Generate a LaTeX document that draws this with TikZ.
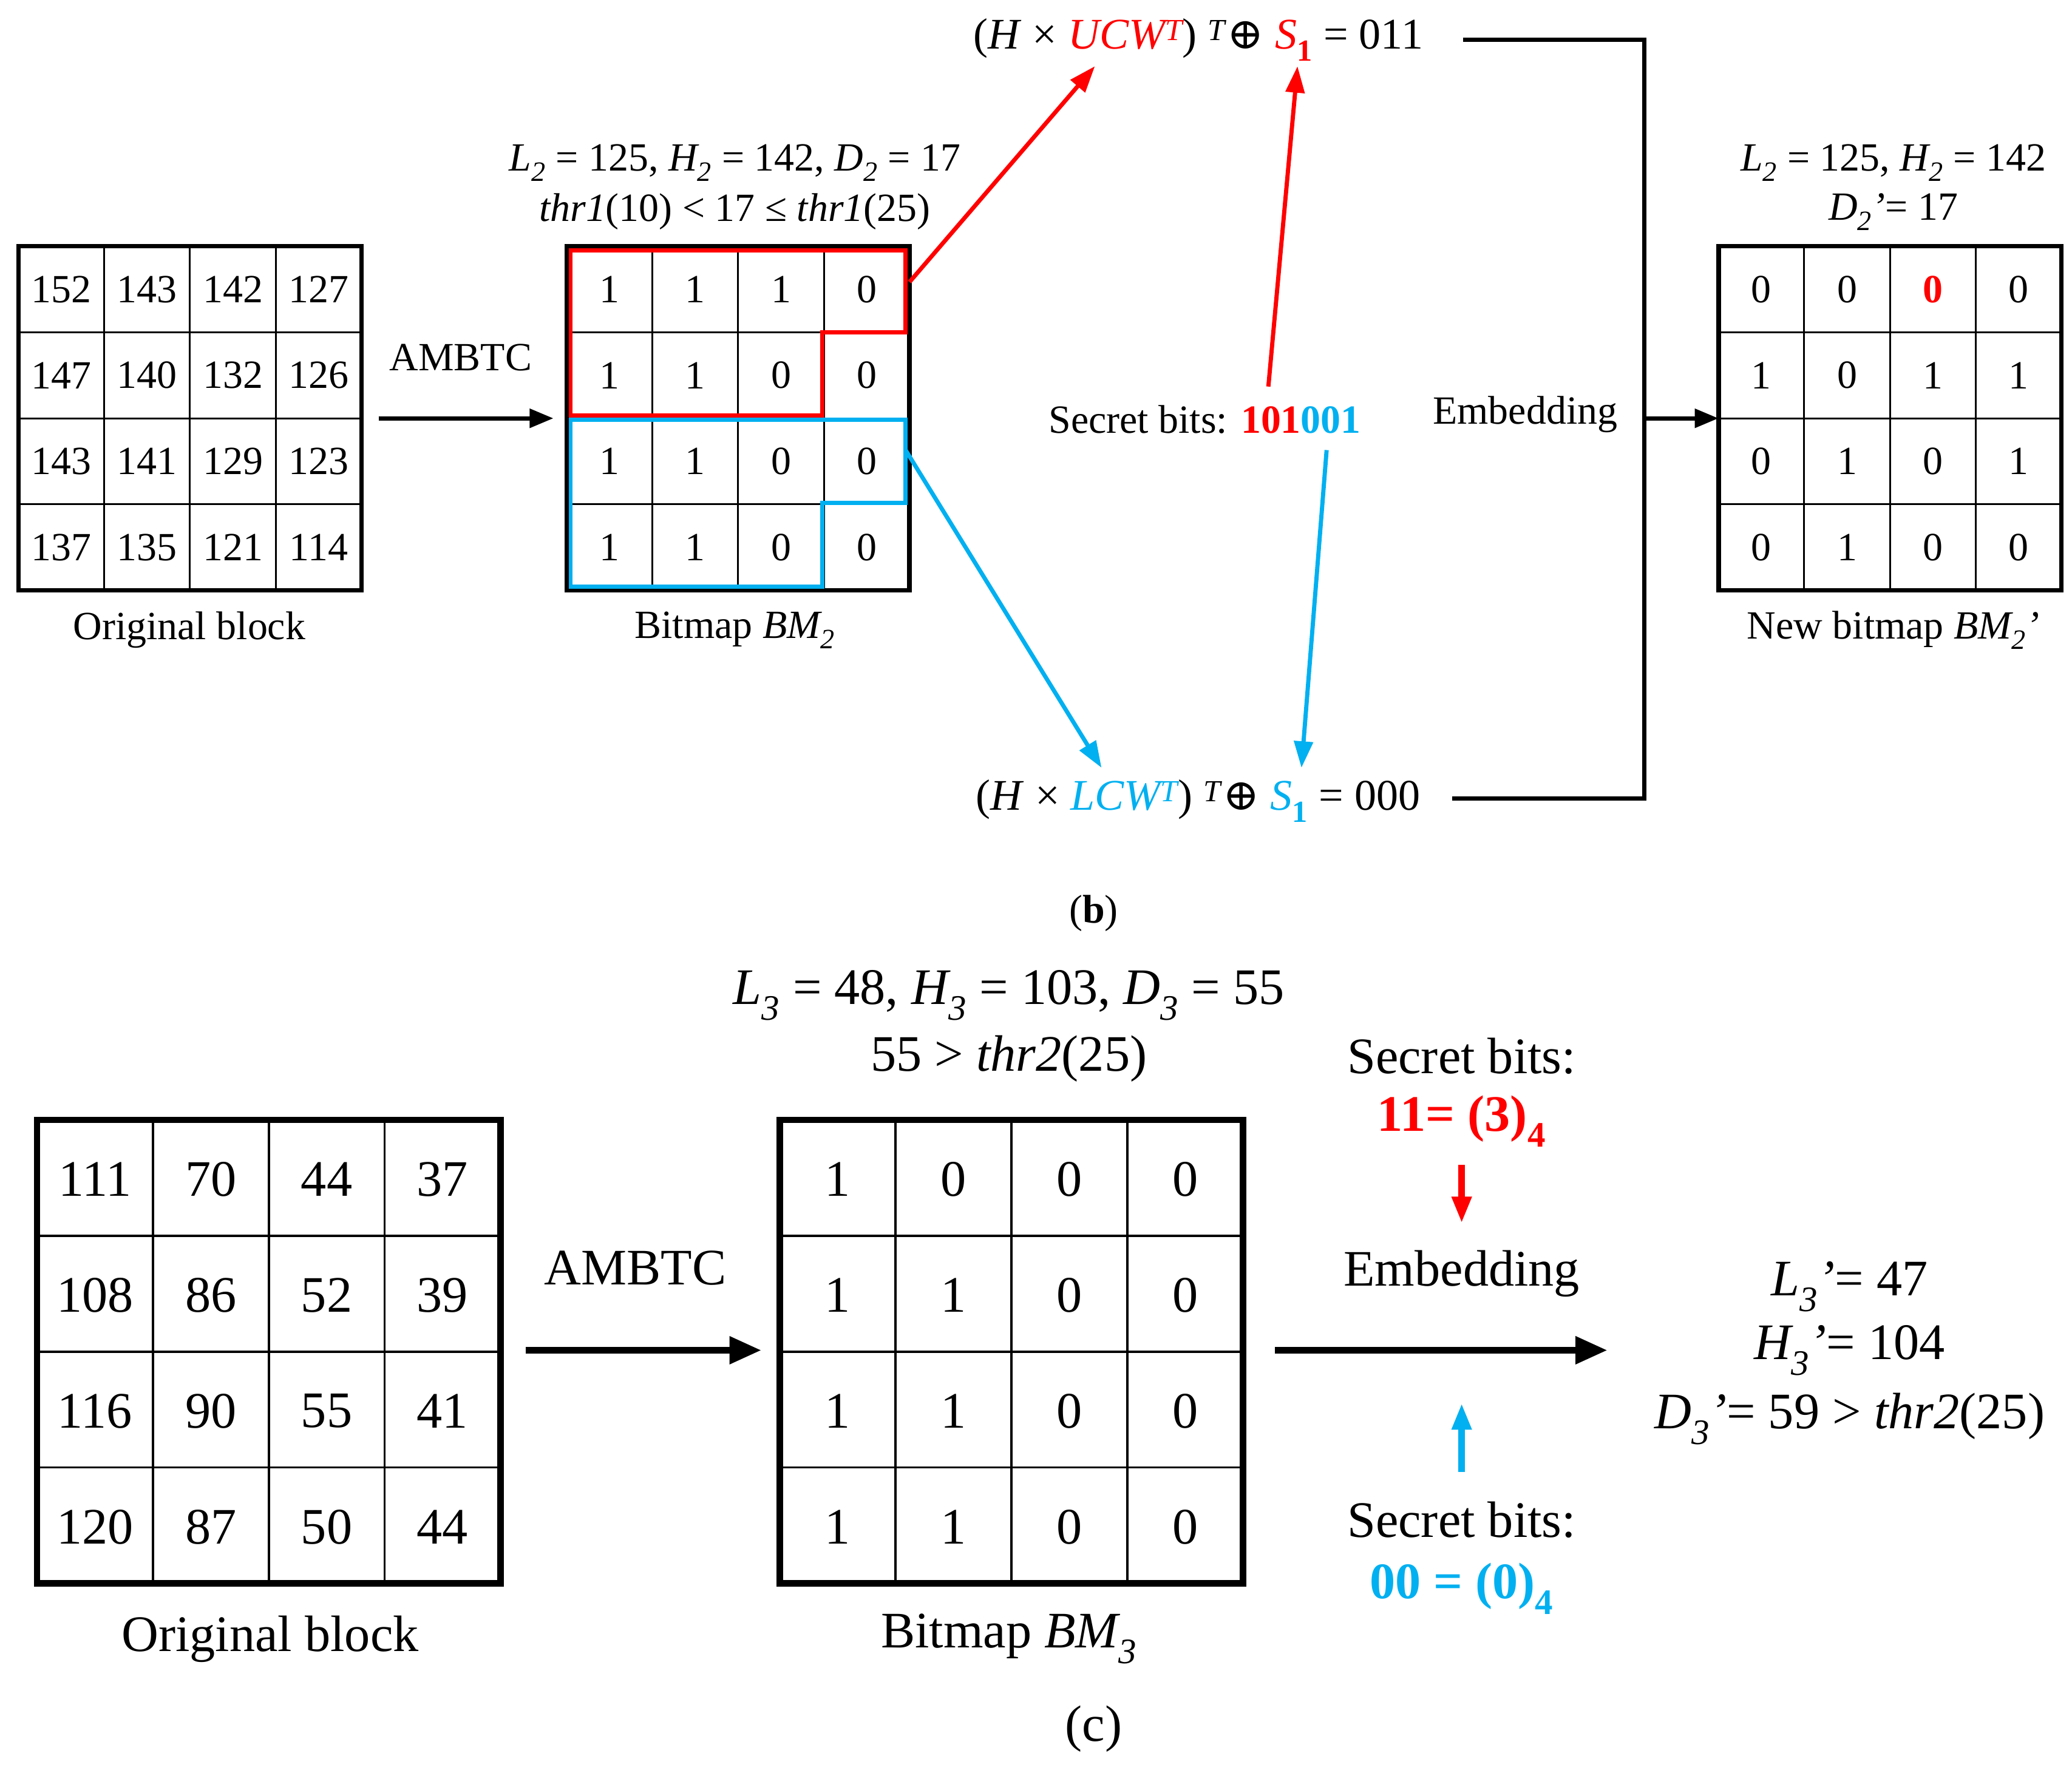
\documentclass[tikz,border=0pt]{standalone}
\usepackage{fontspec}
\setmainfont{Liberation Serif}
\newfontfamily\djv{DejaVu Serif}
\newcommand\sbx[1]{\textsubscript{#1}}
\newcommand\spx[1]{\textsuperscript{#1}}
\newcommand\opl{{\djv ⊕}}
\usetikzlibrary{arrows.meta}
\definecolor{myred}{HTML}{FF0000}
\definecolor{mycyan}{HTML}{00B0F0}
\begin{document}
\begin{tikzpicture}[x=0.05cm,y=-0.05cm,
  st/.style={font=\fontsize{43}{48}\selectfont,inner sep=0},
  ft/.style={font=\fontsize{47}{52}\selectfont,inner sep=0},
  bt/.style={font=\fontsize{55}{62}\selectfont,inner sep=0},
  arr/.style={line width=4.5pt,-{Triangle[length=0.9cm,width=0.7cm]}},
  barr/.style={line width=7pt,-{Triangle[length=1.2cm,width=1cm]}},
  carr/.style={line width=4.5pt,-{Triangle[length=1cm,width=0.7cm]}}]
\useasboundingbox (0,0) rectangle (1565,1337);
% ---- top grids
\def\topgrid#1#2#3{%
  \draw[line width=5pt] (#2,186) rectangle ++(259,260);
  \foreach \i in {1,2,3}{\draw[line width=2pt] (#2+\i*64.75,186)--++(0,260); \draw[line width=2pt] (#2,186+\i*65)--++(259,0);}
  \foreach \r [count=\y from 0] in {#3}{\foreach \v [count=\x from 0] in \r {\node[st] (#1\x\y) at (#2+32.4+\x*64.75,218.5+\y*65) {\v};}}}
\topgrid{o}{14}{{152,143,142,127},{147,140,132,126},{143,141,129,123},{137,135,121,114}}
\topgrid{b}{428}{{1,1,1,0},{1,1,0,0},{1,1,0,0},{1,1,0,0}}
\topgrid{n}{1298}{{0,0,\textcolor{myred}{\textbf{0}},0},{1,0,1,1},{0,1,0,1},{0,1,0,0}}
\draw[myred,line width=4.5pt] (431,189)--(684,189)--(684,251)--(621,251)--(621,314)--(431,314)--cycle;
\draw[mycyan,line width=4.5pt] (431,317)--(684,317)--(684,380)--(621,380)--(621,443)--(431,443)--cycle;
\node[st] (ob) at (143,476) {Original block};
\node[st] (bm) at (555,476) {Bitmap \textit{BM\sbx{2}}};
\node[st] (nb) at (1430,476) {New bitmap \textit{BM\sbx{2}'}};
\node[st] (l1) at (555,123) {\textit{L\sbx{2}} = 125, \textit{H\sbx{2}} = 142, \textit{D\sbx{2}} = 17};
\node[st] (l2) at (555,160) {\textit{thr1}(10) < 17 ≤ \textit{thr1}(25)};
\node[st] (r1) at (1430,123) {\textit{L\sbx{2}} = 125, \textit{H\sbx{2}} = 142};
\node[st] (r2) at (1430,160) {\textit{D\sbx{2}'}= 17};
\node[st] (am) at (348,270) {AMBTC};
\coordinate (a1) at (286,316); \coordinate (a2) at (418,316);
\draw[arr] (a1)--(a2);
\node[ft] (f1) at (905,30) {(\textit{H} × \textcolor{myred}{\textit{UCW\spx{T}}}) \spx{\textit{T}}\opl\ \textcolor{myred}{\textit{S}\sbx{\textbf{1}}} = 011};
\node[ft] (f2) at (905,605) {(\textit{H} × \textcolor{mycyan}{\textit{LCW\spx{T}}}) \spx{\textit{T}}\opl\ \textcolor{mycyan}{\textit{S}\sbx{\textbf{1}}} = 000};
\node[st] (sb) at (910,317) {Secret bits: \textcolor{myred}{\textbf{101}}\textcolor{mycyan}{\textbf{001}}};
\node[st] (em) at (1152,313) {Embedding};
\coordinate (c1) at (1105,30); \coordinate (c2) at (1242,30); \coordinate (c3) at (1242,603); \coordinate (c4) at (1097,603);
\draw[line width=4.5pt] (c1)--(c2)--(c3)--(c4);
\coordinate (c5) at (1242,316); \coordinate (c6) at (1298,316);
\draw[arr] (c5)--(c6);
\coordinate (r0) at (687,213); \coordinate (rr) at (827,50);
\draw[carr,myred] (r0)--(rr);
\coordinate (u0) at (684,340); \coordinate (uu) at (832,580);
\draw[carr,mycyan] (u0)--(uu);
\coordinate (s0) at (958,292); \coordinate (s1) at (980,50);
\draw[carr,myred] (s0)--(s1);
\coordinate (t0) at (1002,340); \coordinate (t1) at (983,580);
\draw[carr,mycyan] (t0)--(t1);
\node[st] (lb) at (826,690) {(\textbf{b})};
% ---- bottom
\def\botgrid#1#2#3{%
  \draw[line width=7pt] (#2,846) rectangle ++(350,350);
  \foreach \i in {1,2,3}{\draw[line width=2.5pt] (#2+\i*87.5,846)--++(0,350); \draw[line width=2.5pt] (#2,846+\i*87.5)--++(350,0);}
  \foreach \r [count=\y from 0] in {#3}{\foreach \v [count=\x from 0] in \r {\node[bt] (#1\x\y) at (#2+43.75+\x*87.5,891+\y*87.5) {\v};}}}
\botgrid{p}{28}{{111,70,44,37},{108,86,52,39},{116,90,55,41},{120,87,50,44}}
\botgrid{q}{589}{{1,0,0,0},{1,1,0,0},{1,1,0,0},{1,1,0,0}}
\node[bt] (ob3) at (204,1238) {Original block};
\node[bt] (bm3) at (762,1238) {Bitmap \textit{BM\sbx{3}}};
\node[bt] (m1) at (762,752) {\textit{L\sbx{3}} = 48, \textit{H\sbx{3}} = 103, \textit{D\sbx{3}} = 55};
\node[bt] (m2) at (762,800) {55 > \textit{thr2}(25)};
\node[bt] (am3) at (480,958) {AMBTC};
\coordinate (d1) at (397,1020); \coordinate (d2) at (575,1020);
\draw[barr] (d1)--(d2);
\coordinate (e1) at (963,1020); \coordinate (e2) at (1214,1020);
\draw[barr] (e1)--(e2);
\node[bt] (sb1) at (1104,798) {Secret bits:};
\node[bt,myred] (sv1) at (1104,847) {\textbf{11= (3)\sbx{4}}};
\coordinate (g1) at (1104,880); \coordinate (g2) at (1104,924);
\draw[carr,myred,line width=7pt] (g1)--(g2);
\node[bt] (em3) at (1104,962) {Embedding};
\coordinate (h1) at (1104,1112); \coordinate (h2) at (1104,1060);
\draw[carr,mycyan,line width=7pt] (h1)--(h2);
\node[bt] (sb2) at (1104,1148) {Secret bits:};
\node[bt,mycyan] (sv2) at (1104,1200) {\textbf{00 = (0)\sbx{4}}};
\node[bt] (k1) at (1397,972) {\textit{L\sbx{3}'}= 47};
\node[bt] (k2) at (1397,1020) {\textit{H\sbx{3}'}= 104};
\node[bt] (k3) at (1397,1072) {\textit{D\sbx{3}'}= 59 > \textit{thr2}(25)};
\node[bt] (lc) at (826,1306) {(c)};
\end{tikzpicture}
\end{document}
